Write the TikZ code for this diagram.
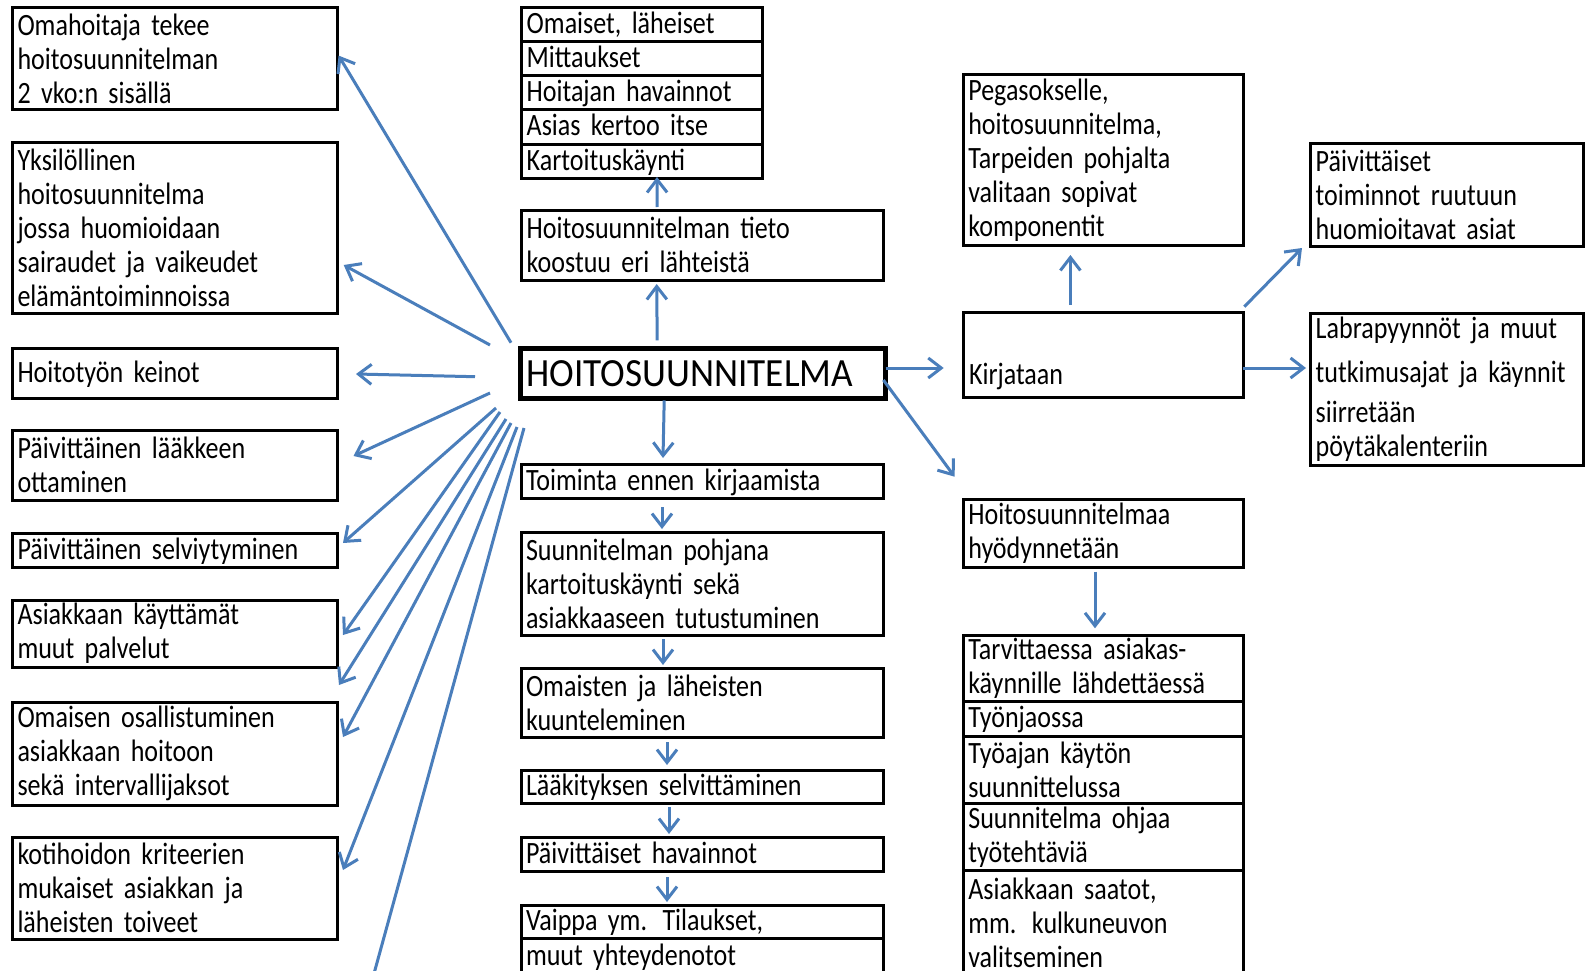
\documentclass[tikz,border=0pt]{standalone}
\usepackage{fontspec}
\setmainfont{Carlito}[FakeStretch=0.84,WordSpace=0.75]
\newfontfamily\headfont{Carlito}[FakeStretch=0.93]
\usetikzlibrary{arrows.meta,positioning,calc}
\definecolor{arrblue}{RGB}{74,126,187}

\begin{document}
\begin{tikzpicture}[x=1pt,y=-1pt,
  box/.style={draw,line width=3pt,anchor=north west,align=left,inner xsep=5pt,inner ysep=0pt,outer sep=0pt,font=\fontsize{31}{34}\selectfont},
  one/.style={text height=22pt,text depth=4pt},
  lbox/.style={box,text width=315pt},
  cbox/.style={box,text width=352pt},
  rbox/.style={box,text width=270pt},
  row/.style={box,one,minimum height=34.2pt},
  arr/.style={draw=arrblue,line width=3pt,-{Straight Barb[length=13pt,width=20pt]}},
  fan/.style={draw=arrblue,line width=3pt}]
\fill[white] (0,0) rectangle (1585,971);
\clip (0,0) rectangle (1585,971);
\useasboundingbox (0,0) rectangle (1585,971);

% left column
\node[lbox,minimum height=102pt] (omahoitaja) at (12.5,8) {Omahoitaja tekee\\hoitosuunnitelman\\2 vko:n sisällä};
\node[lbox,minimum height=170pt] (yksil) at (12.5,143) {Yksilöllinen\\hoitosuunnitelma\\jossa huomioidaan\\sairaudet ja vaikeudet\\elämäntoiminnoissa};
\node[lbox,one,minimum height=50pt] (keinot) at (12.5,348) {Hoitotyön keinot};
\node[lbox,minimum height=70pt] (laake) at (12.5,430) {Päivittäinen lääkkeen\\ottaminen};
\node[lbox,one,minimum height=34pt] (selviyt) at (12.5,533) {Päivittäinen selviytyminen};
\node[lbox,minimum height=67pt] (palvelut) at (12.5,600) {Asiakkaan käyttämät\\muut palvelut};
\node[lbox,minimum height=103pt] (omainen) at (12.5,702) {Omaisen osallistuminen\\asiakkaan hoitoon\\sekä intervallijaksot};
\node[lbox,minimum height=102pt] (kriteerit) at (12.5,837) {kotihoidon kriteerien\\mukaiset asiakkan ja\\läheisten toiveet};

% centre column
\node[row,text width=231pt] (omaiset) at (521.7,7.3) {Omaiset, läheiset};
\node[row,text width=231pt,below=0pt of omaiset] (mittaukset) {Mittaukset};
\node[row,text width=231pt,below=0pt of mittaukset] (havainto) {Hoitajan havainnot};
\node[row,text width=231pt,below=0pt of havainto] (kertoo) {Asias kertoo itse};
\node[row,text width=231pt,below=0pt of kertoo] (kartoitus) {Kartoituskäynti};
\node[cbox,minimum height=69.3pt] (tieto) at (521.7,210.7) {Hoitosuunnitelman tieto\\koostuu eri lähteistä};
\node[box,line width=4.5pt,text width=353pt,minimum height=50pt,inner xsep=6pt,font=\headfont\fontsize{40}{44}\selectfont] (hoito) at (520.7,348.3) {HOITOSUUNNITELMA};
\node[cbox,one,minimum height=34pt] (toiminta) at (521,464) {Toiminta ennen kirjaamista};
\node[cbox,minimum height=102.3pt] (suunn) at (521,532.7) {Suunnitelman pohjana\\kartoituskäynti sekä\\asiakkaaseen tutustuminen};
\node[cbox,minimum height=69pt] (omaisten) at (521,668) {Omaisten ja läheisten\\kuunteleminen};
\node[cbox,one,minimum height=33pt] (laakitys) at (521,770) {Lääkityksen selvittäminen};
\node[cbox,one,minimum height=34pt] (havainnot) at (521,837) {Päivittäiset havainnot};
\node[cbox,one,minimum height=33pt] (vaippa) at (521,905) {Vaippa ym. Tilaukset,};
\node[cbox,one,minimum height=36pt,below=0pt of vaippa] (yhteys) {muut yhteydenotot};

% right side
\node[rbox,minimum height=170pt] (pegas) at (963.3,75) {Pegasokselle,\\hoitosuunnitelma,\\Tarpeiden pohjalta\\valitaan sopivat\\komponentit};
\node[rbox,minimum height=85pt] (kirjataan) at (963.3,312) {};
\node[anchor=base west,inner sep=0pt,font=\fontsize{31}{34}\selectfont] (kirjtext) at ($(kirjataan.south west)+(5.5,-13)$) {Kirjataan};
\node[box,text width=263pt,minimum height=102.7pt] (paivtoim) at (1310.7,143.3) {Päivittäiset\\toiminnot ruutuun\\huomioitavat asiat};
\node[box,text width=263pt,minimum height=152pt] (labra) at (1310.7,313) {Labrapyynnöt ja muut\\[10pt]tutkimusajat ja käynnit\\[6pt]siirretään\\pöytäkalenteriin};
\node[rbox,minimum height=68.3pt] (hyod) at (963.3,499) {Hoitosuunnitelmaa\\hyödynnetään};
\node[rbox,minimum height=66.7pt] (tarvitt) at (963.3,635) {Tarvittaessa asiakas-\\käynnille lähdettäessä};
\node[rbox,one,minimum height=34.3pt,below=0pt of tarvitt] (tyonjako) {Työnjaossa};
\node[rbox,minimum height=67.3pt,below=0pt of tyonjako] (tyoaika) {Työajan käytön\\suunnittelussa};
\node[rbox,minimum height=67.4pt,below=0pt of tyoaika] (ohjaa) {Suunnitelma ohjaa\\työtehtäviä};
\node[rbox,minimum height=104pt,below=0pt of ohjaa] (saatot) {Asiakkaan saatot,\\mm. kulkuneuvon\\valitseminen};

% centre arrows
\draw[arr] ($(hoito.north)+(-46,-8)$) -- ($(tieto.south)+(-46,4)$);
\draw[arr] ($(tieto.north)+(-45.5,-3.7)$) -- ($(kartoitus.south)+(14.8,-1.3)$);
\draw[arr] ($(hoito.south)+(-39,2)$) -- ($(toiminta.north)+(-39,-6)$);
\draw[arr] ($(toiminta.south)+(-40,9)$) -- ($(suunn.north)+(-40,-3.7)$);
\draw[arr] ($(suunn.south)+(-39,4)$) -- ($(omaisten.north)+(-39,-3)$);
\draw[arr] ($(omaisten.south)+(-35,5)$) -- ($(laakitys.north)+(-35,-5)$);
\draw[arr] ($(laakitys.south)+(-33,4)$) -- ($(havainnot.north)+(-33,-3)$);
\draw[arr] ($(havainnot.south)+(-35,6)$) -- ($(vaippa.north)+(-35,-3)$);

% right arrows
\draw[arr] ($(hoito.east)+(0,-5.3)$) -- ($(kirjataan.west)+(-19.6,13.5)$);
\draw[arr] ($(kirjataan.east)+(0,13.5)$) -- ($(labra.west)+(-4.7,-21)$);
\draw[arr] ($(kirjataan.north east)+(1,-5.3)$) -- ($(paivtoim.south west)+(-8.7,2)$);
\draw[arr] ($(kirjataan.north)+(-32.9,-7)$) -- ($(pegas.south)+(-32.9,10)$);
\draw[arr] ($(hoito.east)+(-2.3,6.7)$) -- ($(hyod.north west)+(-8.7,-22.3)$);
\draw[arr] ($(hyod.south)+(-8.3,4.4)$) -- ($(tarvitt.north)+(-8.3,-6.7)$);

% left fan
\coordinate (f1) at (511,342.7);
\coordinate (f2) at (490,345);
\coordinate (f3) at (475,376.7);
\coordinate (f4) at (490,393);
\coordinate (f5) at (496,408);
\coordinate (f6) at (500,412);
\coordinate (f7) at (506,419);
\coordinate (f8) at (511,423);
\coordinate (f9) at (517,427);
\coordinate (f10) at (524,428);
\coordinate (fend) at (369.5,990);

\draw[arr] (f1) -- ($(omahoitaja.east)+(1.1,-3.4)$);
\draw[arr] (f2) -- ($(yksil.east)+(6.2,37)$);
\draw[arr] (f3) -- ($(keinot.east)+(18.5,1)$);
\draw[arr] (f4) -- ($(laake.east)+(16,-9)$);
\draw[arr] (f5) -- ($(selviyt.east)+(5.5,-7)$);
\draw[arr] (f6) -- ($(palvelut.east)+(5.5,1.5)$);
\draw[arr] (f7) -- ($(omainen.north east)+(1.5,-17)$);
\draw[arr] (f8) -- ($(omainen.east)+(5.5,-16.5)$);
\draw[arr] (f9) -- ($(kriteerit.east)+(5.5,-18)$);
\draw[fan] (f10) -- (fend);
\end{tikzpicture}
\end{document}
